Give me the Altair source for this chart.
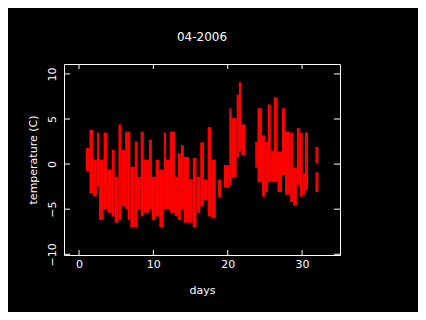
import altair as alt
import pandas as pd

# streaks of readings (day range, temperature range)
day_start = [0.9, 1.4, 1.9, 2.4, 2.7, 3.3, 3.8, 4.4, 4.8, 5.3, 5.7, 6.2,
             6.55, 6.9, 7.5, 7.9, 8.3, 8.7, 9.4, 9.8, 10.3, 10.8, 11.4, 11.7,
             12.2, 12.9, 13.3, 13.7, 14.1, 14.8, 15.3, 15.8, 16.3, 16.8, 17.3,
             17.8, 18.7, 19.5, 20.2, 20.5, 21.2, 21.5, 21.8, 23.7, 24.0, 24.6,
             25.0, 25.4, 25.8, 26.2, 26.7, 27.3, 27.7, 28.4, 28.8, 29.3, 29.7,
             30.1, 30.4, 31.8, 31.8]
day_end = [1.4, 1.9, 2.4, 2.7, 3.3, 3.8, 4.4, 4.8, 5.3, 5.7, 6.2, 6.55,
           6.9, 7.5, 7.9, 8.3, 8.7, 9.4, 9.8, 10.3, 10.8, 11.4, 11.7, 12.2,
           12.9, 13.3, 13.7, 14.1, 14.8, 15.3, 15.8, 16.3, 16.8, 17.3, 17.8,
           18.4, 19.1, 20.2, 20.5, 21.2, 21.5, 21.8, 22.4, 24.0, 24.6, 25.0,
           25.4, 25.8, 26.2, 26.7, 27.3, 27.7, 28.4, 28.8, 29.3, 29.7, 30.1,
           30.4, 30.8, 32.2, 32.2]
temp_low = [-0.8, -3.2, -3.6, -2.5, -6.2, -5.0, -5.4, -5.8, -6.5, -6.2, -4.7, -5.0,
            -6.2, -7.0, -7.0, -5.0, -5.8, -5.4, -5.0, -6.2, -5.8, -7.0, -5.0, -5.0,
            -5.4, -5.8, -6.2, -5.0, -6.5, -6.5, -7.0, -5.4, -4.7, -4.0, -5.8,
            -6.0, -3.7, -2.6, -2.3, -1.5, 0.7, 1.4, 1.0, -0.4, -2.0, -3.6,
            -3.1, -2.0, -2.0, -2.0, -3.1, -1.2, -3.4, -4.2, -4.6, -2.3, -3.6,
            -3.4, -2.9, 0.1, -3.1]
temp_high = [1.8, 3.8, 0.5, 3.5, 0.5, 3.5, -0.6, 1.6, -1.4, 4.4, 1.6, 3.6,
             3.6, -0.3, 2.5, -1.4, 3.6, 0.5, 2.7, -1.4, 0.5, -0.6, 3.5, 0.5,
             3.6, -1.4, 1.2, 2.1, 0.8, -1.7, 0.7, -1.4, 2.4, -1.7, 4.1,
             0.5, -1.7, -0.1, 6.2, 5.1, 7.7, 9.1, 4.4, 2.5, 6.2, 3.2,
             2.5, 6.6, 1.5, 7.4, 1.4, 6.2, 3.6, 3.5, -0.4, 4.0, 3.5,
             -1.0, 3.5, 1.9, -0.9]

x_ticks = [0, 10, 20, 30]
y_ticks = [-10, -5, 0, 5, 10]

W, H = 276, 191
FONT = "DejaVu Sans"
xs = alt.Scale(domain=[-2.02, 35.1], nice=False, zero=False)
ys = alt.Scale(domain=[-10.08, 11.1], nice=False, zero=False)

x_axis = alt.Axis(
    values=x_ticks, title="days", ticks=False, domain=False, grid=False,
    labelColor="white", titleColor="white", labelFont=FONT, titleFont=FONT,
    labelFontSize=11, titleFontSize=11, titleFontWeight="normal",
    labelPadding=3, titlePadding=15, labelFlush=False)
y_axis = alt.Axis(
    values=y_ticks, title="temperature (C)", ticks=False, domain=False, grid=False,
    labelColor="white", titleColor="white", labelFont=FONT, titleFont=FONT,
    labelFontSize=11, titleFontSize=11, titleFontWeight="normal",
    labelAngle=-90, labelAlign="center", labelBaseline="bottom",
    labelPadding=7, titlePadding=8, labelFlush=False)

df = pd.DataFrame({"d0": day_start, "d1": day_end, "lo": temp_low, "hi": temp_high})
xt = pd.DataFrame({"t": x_ticks})
yt = pd.DataFrame({"t": y_ticks})

streaks = alt.Chart(df).mark_rect(color="#ff0000").encode(
    x=alt.X("d0:Q", scale=xs, axis=x_axis, title="days"),
    x2="d1:Q",
    y=alt.Y("lo:Q", scale=ys, axis=y_axis, title="temperature (C)"),
    y2="hi:Q",
)

tick_style = dict(color="white", strokeWidth=1)
xb = alt.Chart(xt).mark_rule(**tick_style).encode(
    x=alt.X("t:Q", scale=xs, axis=x_axis, title="days"), y=alt.value(H), y2=alt.value(H - 5))
xtop = alt.Chart(xt).mark_rule(**tick_style).encode(
    x=alt.X("t:Q", scale=xs, axis=x_axis, title="days"), y=alt.value(0), y2=alt.value(5))
yl = alt.Chart(yt).mark_rule(**tick_style).encode(
    y=alt.Y("t:Q", scale=ys, axis=y_axis, title="temperature (C)"), x=alt.value(0), x2=alt.value(6))
yr = alt.Chart(yt).mark_rule(**tick_style).encode(
    y=alt.Y("t:Q", scale=ys, axis=y_axis, title="temperature (C)"), x=alt.value(W), x2=alt.value(W - 6))

chart = alt.layer(streaks, xb, xtop, yl, yr).properties(
    width=W, height=H,
    title=alt.TitleParams("04-2006", color="white", font=FONT, fontSize=12,
                          fontWeight="normal", anchor="middle", offset=20),
    padding={"left": 56, "top": 56, "right": 78, "bottom": 57},
    autosize="none",
    background="black",
).configure_view(stroke="white", strokeWidth=1, fill="black")

chart.save("out.html", embed_options={"renderer": "svg", "actions": False})
